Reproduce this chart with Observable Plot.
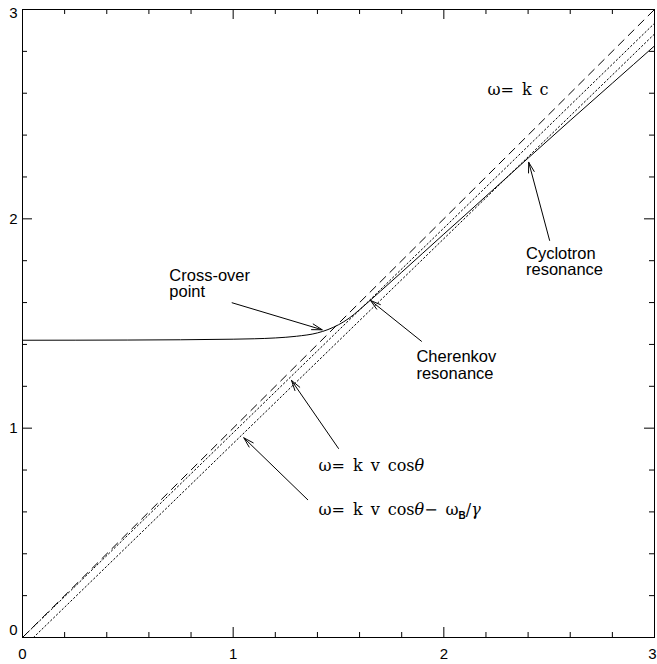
<!DOCTYPE html>
<html>
<head>
<meta charset="utf-8">
<script src="https://cdn.jsdelivr.net/npm/d3@7"></script>
<script src="https://cdn.jsdelivr.net/npm/@observablehq/plot@0.6"></script>
<style>
  body { margin: 0; background: #fff; }
</style>
</head>
<body>
<div id="chart"></div>
<script>
// Dispersion branch ω(k) in normalized units
const kDispersion = [0, 0.5, 1.0, 1.1, 1.2, 1.3, 1.4, 1.45, 1.5, 1.55, 1.6, 1.65, 1.7, 1.8, 1.9, 2.0, 2.1, 2.2, 2.4, 2.6, 2.8, 3.0];
const wDispersion = [1.420, 1.421, 1.425, 1.427, 1.431, 1.439, 1.455, 1.471, 1.494, 1.525, 1.566, 1.610, 1.655, 1.745, 1.836, 1.927, 2.017, 2.108, 2.290, 2.470, 2.648, 2.826];

// Straight lines: light line ω = kc, Cherenkov ω = kv cosθ, cyclotron ω = kv cosθ − ωB/γ
const lightK = [0, 3];
const lightW = [0, 3];
const cherenkovK = [0, 3];
const cherenkovW = [0, 2.934];
const cyclotronK = [0.052, 3];
const cyclotronW = [0, 2.883];

// Axis ticks
const majorTicks = [0, 1, 2, 3];
const minorTicks = [0.2, 0.4, 0.6, 0.8, 1.2, 1.4, 1.6, 1.8, 2.2, 2.4, 2.6, 2.8];
const tickLabels = ["0", "1", "2", "3"];

// Annotations (text anchored at left edge, centered vertically)
const noteText = ["Cross-over\npoint", "Cherenkov\nresonance", "Cyclotron\nresonance"];
const noteK = [0.697, 1.870, 2.390];
const noteW = [1.691, 1.300, 1.796];

const formulaText = ["ω=\u2002k\u2002c", "ω=\u2002k\u2002v\u2002cosθ", "ω=\u2002k\u2002v\u2002cosθ−\u2002ω_B/γ"];
const formulaK = [2.207, 1.405, 1.405];
const formulaW = [2.618, 0.822, 0.6115];

// Arrows from labels to the curves
const arrowFromK = [0.995, 1.894, 2.502, 1.500, 1.354];
const arrowFromW = [1.599, 1.415, 1.897, 0.903, 0.658];
const arrowToK = [1.4226, 1.652, 2.403, 1.277, 1.0505];
const arrowToW = [1.470, 1.610, 2.270, 1.228, 0.954];

const toPoints = (ks, ws) => ks.map((k, i) => ({k, w: ws[i]}));
const dispersion = toPoints(kDispersion, wDispersion);
const light = toPoints(lightK, lightW);
const cherenkov = toPoints(cherenkovK, cherenkovW);
const cyclotron = toPoints(cyclotronK, cyclotronW);
const notes = noteText.map((t, i) => ({t, k: noteK[i], w: noteW[i]}));
const formulas = formulaText.map((t, i) => ({t, k: formulaK[i], w: formulaW[i]}));
const arrows = arrowFromK.map((k, i) => ({k1: k, w1: arrowFromW[i], k2: arrowToK[i], w2: arrowToW[i]}));
const labelsAt = (vals) => vals.map(v => ({v, t: tickLabels[majorTicks.indexOf(v)]}));

const W = 657, H = 664;
const mTop = 9, mRight = 3, mBottom = 27, mLeft = 22;
const innerW = W - mLeft - mRight;
const innerH = H - mTop - mBottom;
const minorLen = 5, majorLen = 10;

const sans = "Liberation Sans, Arial, Helvetica, sans-serif";
const serif = "DejaVu Serif, serif";

const chart = Plot.plot({
  width: W,
  height: H,
  marginTop: mTop,
  marginRight: mRight,
  marginBottom: mBottom,
  marginLeft: mLeft,
  x: {domain: [0, 3], axis: null},
  y: {domain: [0, 3], axis: null},
  style: {fontFamily: sans, fontSize: "15px", color: "black", background: "white"},
  marks: [
    Plot.frame({stroke: "black", strokeWidth: 1}),

    // inward ticks on all four sides
    Plot.ruleX(minorTicks, {x: d => d, insetTop: innerH - minorLen, stroke: "black"}),
    Plot.ruleX(minorTicks, {x: d => d, insetBottom: innerH - minorLen, stroke: "black"}),
    Plot.ruleX(majorTicks, {x: d => d, insetTop: innerH - majorLen, stroke: "black"}),
    Plot.ruleX(majorTicks, {x: d => d, insetBottom: innerH - majorLen, stroke: "black"}),
    Plot.ruleY(minorTicks, {y: d => d, insetRight: innerW - minorLen, stroke: "black"}),
    Plot.ruleY(minorTicks, {y: d => d, insetLeft: innerW - minorLen, stroke: "black"}),
    Plot.ruleY(majorTicks, {y: d => d, insetRight: innerW - majorLen, stroke: "black"}),
    Plot.ruleY(majorTicks, {y: d => d, insetLeft: innerW - majorLen, stroke: "black"}),

    // tick labels
    Plot.text(labelsAt([0, 1, 2]), {x: "v", text: "t", frameAnchor: "bottom", dy: 17, lineAnchor: "middle", fontSize: 15}),
    Plot.text(labelsAt([3]), {x: "v", text: "t", frameAnchor: "bottom", dx: -2, dy: 17, lineAnchor: "middle", fontSize: 15}),
    Plot.text(labelsAt([1, 2]), {y: "v", text: "t", frameAnchor: "left", dx: -5, textAnchor: "end", lineAnchor: "middle", fontSize: 15}),
    Plot.text(labelsAt([3]), {y: "v", text: "t", frameAnchor: "left", dx: -5, dy: 4, textAnchor: "end", lineAnchor: "middle", fontSize: 15}),
    Plot.text(labelsAt([0]), {y: "v", text: "t", frameAnchor: "left", dx: -5, dy: -7, textAnchor: "end", lineAnchor: "middle", fontSize: 15}),

    // curves
    Plot.line(light, {x: "k", y: "w", stroke: "black", strokeWidth: 1, strokeDasharray: "8,6"}),
    Plot.line(cherenkov, {x: "k", y: "w", stroke: "black", strokeWidth: 1, strokeDasharray: "1.5,2.5"}),
    Plot.line(cyclotron, {x: "k", y: "w", stroke: "black", strokeWidth: 1, strokeDasharray: "1.5,2.5"}),
    Plot.line(dispersion, {x: "k", y: "w", stroke: "black", strokeWidth: 1, curve: "monotone-x"}),

    // annotations
    Plot.arrow(arrows, {x1: "k1", y1: "w1", x2: "k2", y2: "w2", stroke: "black", strokeWidth: 1, headLength: 16, headAngle: 32}),
    Plot.text(notes, {x: "k", y: "w", text: "t", textAnchor: "start", lineAnchor: "middle", lineHeight: 1.0, fontSize: 16.5, fontFamily: sans}),
    Plot.text(formulas, {x: "k", y: "w", text: "t", textAnchor: "start", lineAnchor: "middle", fontSize: 16, fontFamily: serif})
  ]
});

// Typeset the formulas: italic θ and γ, subscript for "_X"
function typeset(node) {
  const src = node.textContent;
  const ns = "http://www.w3.org/2000/svg";
  node.textContent = "";
  let pending = 0;
  for (const part of src.split(/(_.|[θγ])/)) {
    if (!part) continue;
    const span = document.createElementNS(ns, "tspan");
    if (part[0] === "_") {
      span.textContent = part.slice(1);
      span.setAttribute("font-size", "10px");
      span.setAttribute("font-family", sans);
      span.setAttribute("font-weight", "bold");
      span.setAttribute("dy", 4);
      pending = -4;
    } else {
      span.textContent = part;
      if (pending) { span.setAttribute("dy", pending); pending = 0; }
      if (part === "θ" || part === "γ") span.setAttribute("font-style", "italic");
    }
    node.appendChild(span);
  }
}
d3.select(chart).selectAll("text")
  .filter(function() { return this.textContent.startsWith("ω="); })
  .each(function() { typeset(this); });

document.getElementById("chart").appendChild(chart);
</script>
</body>
</html>
